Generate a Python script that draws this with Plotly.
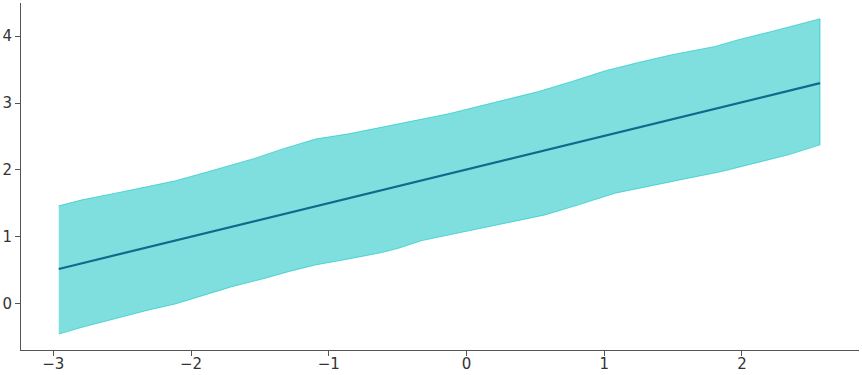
import plotly.graph_objects as go

# Band edges
upper_x = [-2.961, -2.792, -2.549, -2.307, -2.114, -1.872, -1.533, -1.340, -1.098, -0.856,
           -0.615, -0.493, -0.276, -0.131, 0.038, 0.281, 0.523, 0.764, 1.007, 1.248,
           1.490, 1.805, 1.974, 2.216, 2.567]
upper_y = [1.459, 1.549, 1.649, 1.748, 1.834, 1.973, 2.174, 2.309, 2.459, 2.538,
           2.639, 2.688, 2.774, 2.838, 2.924, 3.048, 3.172, 3.322, 3.483, 3.607,
           3.723, 3.847, 3.948, 4.072, 4.262]
lower_x = [-2.961, -2.792, -2.549, -2.307, -2.114, -1.945, -1.703, -1.461, -1.292, -1.098,
           -0.856, -0.615, -0.493, -0.324, -0.131, 0.038, 0.281, 0.571, 0.813, 1.079,
           1.369, 1.611, 1.853, 2.095, 2.337, 2.567]
lower_y = [-0.462, -0.360, -0.225, -0.100, -0.010, 0.099, 0.249, 0.375, 0.474, 0.574,
           0.664, 0.759, 0.825, 0.939, 1.024, 1.099, 1.199, 1.324, 1.474, 1.649,
           1.774, 1.874, 1.973, 2.099, 2.223, 2.373]

# Mean line
line_x = [-2.961, -2.0, -1.0, 0.0, 1.0, 2.0, 2.567]
line_y = [0.514, 0.998, 1.502, 2.005, 2.509, 3.012, 3.298]

x_ticks = [-3, -2, -1, 0, 1, 2]
y_ticks = [0, 1, 2, 3, 4]

band_x = upper_x + lower_x[::-1]
band_y = upper_y + lower_y[::-1]

fig = go.Figure()
fig.add_trace(go.Scatter(
    x=band_x, y=band_y, fill="toself", mode="lines",
    fillcolor="rgba(0,191,191,0.5)",
    line=dict(color="rgba(0,191,191,0.55)", width=1),
    hoverinfo="skip", showlegend=False,
))
fig.add_trace(go.Scatter(
    x=line_x, y=line_y, mode="lines",
    line=dict(color="#0f6a8b", width=2.2),
    showlegend=False,
))

axis_common = dict(
    showgrid=False, zeroline=False, showline=True, linecolor="#555555", linewidth=1,
    ticks="outside", ticklen=5, tickwidth=1, tickcolor="#555555",
    tickfont=dict(family="DejaVu Sans", size=15, color="#333333"),
    automargin=False,
)
fig.update_xaxes(range=[-3.235, 2.85], tickvals=x_ticks, ticklabelstandoff=-5, **axis_common)
fig.update_yaxes(range=[-0.70, 4.498], tickvals=y_ticks, **axis_common)

fig.update_layout(
    width=862, height=375,
    margin=dict(l=21, r=3, t=3, b=25),
    paper_bgcolor="white", plot_bgcolor="white",
)

fig.write_html("out.html")
